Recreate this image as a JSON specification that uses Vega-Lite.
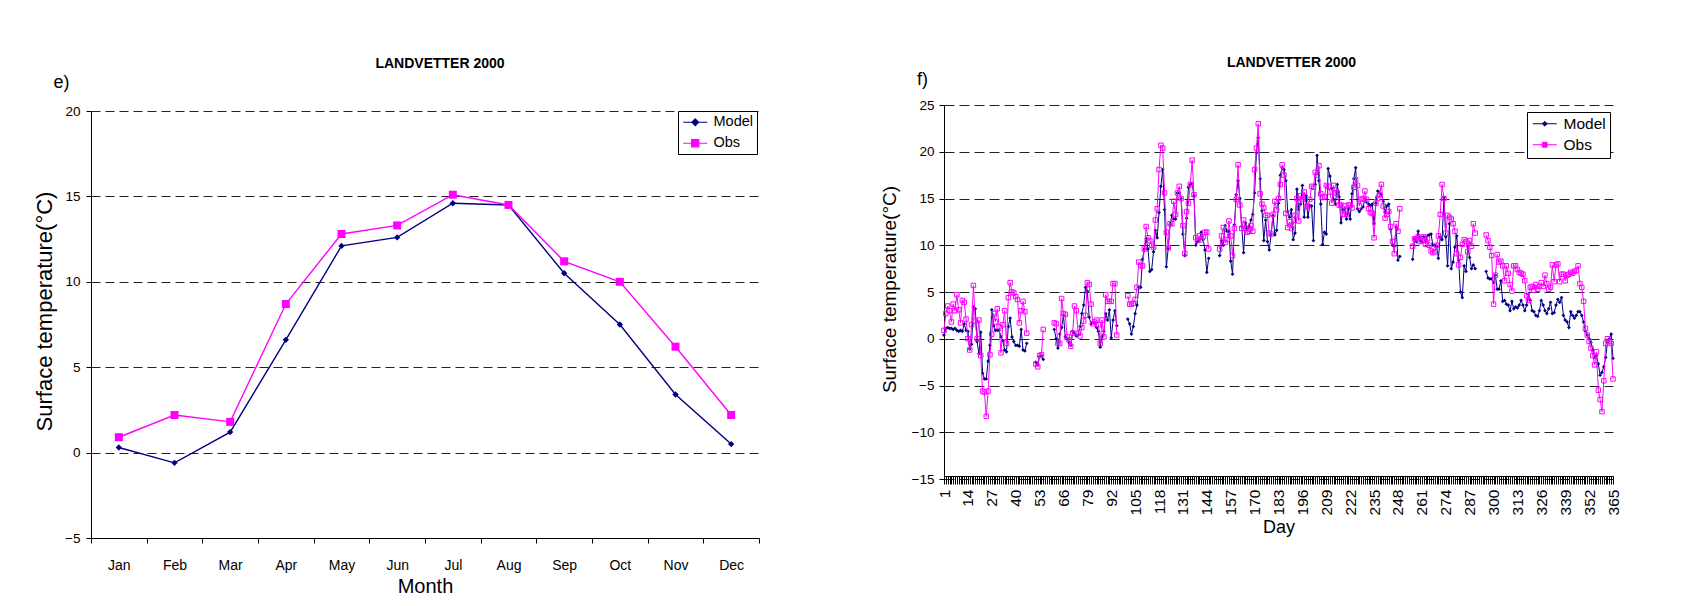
{
"$schema":"https://vega.github.io/schema/vega-lite/v6.json",
"background":"white",
"padding":{"left":33,"top":56,"right":5,"bottom":5},
"bounds":"flush",
"spacing":185,
"config":{"font":"Liberation Sans","view":{"stroke":null},
"axis":{"domainColor":"#000","tickColor":"#000","labelColor":"#000","titleColor":"#000","labelFont":"Liberation Sans","titleFont":"Liberation Sans","titleFontWeight":"normal","gridColor":"#222","gridWidth":1,"domainWidth":1,"tickWidth":1},
"legend":{"labelFont":"Liberation Sans","labelColor":"#000"},
"title":{"font":"Liberation Sans","color":"#000"}},
"resolve":{"scale":{"color":"independent"},"legend":{"color":"independent"}},
"hconcat":[
{
"width":668,"height":433,
"title":{"text":"LANDVETTER 2000","fontSize":14,"fontWeight":"bold","anchor":"middle","frame":"group","dx":15,"offset":2.4},
"data":{"values":[
{"month":"Jan","Model":0.3,"Obs":0.9},{"month":"Feb","Model":-0.6,"Obs":2.2},{"month":"Mar","Model":1.2,"Obs":1.8},{"month":"Apr","Model":6.6,"Obs":8.7},{"month":"May","Model":12.1,"Obs":12.8},{"month":"Jun","Model":12.6,"Obs":13.3},{"month":"Jul","Model":14.6,"Obs":15.1},{"month":"Aug","Model":14.5,"Obs":14.5},{"month":"Sep","Model":10.5,"Obs":11.2},{"month":"Oct","Model":7.5,"Obs":10.0},{"month":"Nov","Model":3.4,"Obs":6.2},{"month":"Dec","Model":0.5,"Obs":2.2}
]},
"resolve":{"axis":{"x":"independent"}},
"layer":[
{"mark":{"type":"line","strokeWidth":1.4},
"encoding":{
"x":{"field":"month","type":"ordinal","sort":["Jan","Feb","Mar","Apr","May","Jun","Jul","Aug","Sep","Oct","Nov","Dec"],"bandPosition":0.5,"scale":{"type":"band","paddingInner":0,"paddingOuter":0},
"axis":{"title":"Month","titleFontSize":20,"titlePadding":4,"labelAngle":0,"labelFontSize":14,"labelPadding":15,"tickSize":5,"tickBand":"extent","grid":false}},
"y":{"field":"Model","type":"quantitative","scale":{"domain":[-5,20],"range":[433,6],"nice":false,"zero":false},
"axis":{"title":"Surface temperature(°C)","values":[-5,0,5,10,15,20],"titleFontSize":22,"titlePadding":8,"titleY":206,"labelFontSize":13.5,"labelPadding":6,"tickSize":5,"grid":true,"gridDash":[9,5]}},
"color":{"datum":"Model","type":"nominal","scale":{"domain":["Model","Obs"],"range":["#000080","#FF00FF"]},
"legend":{"orient":"none","legendX":587,"legendY":6,"title":null,"direction":"vertical","strokeColor":"#000","fillColor":"#fff","padding":4,"labelFontSize":14.5,"symbolSize":144,"symbolOffset":6,"labelOffset":11,"rowPadding":6,
"encode":{"symbols":{"update":{
"shape":{"signal":"datum.value === 'Model' ? 'M-2,0H2M0,-0.55L0.55,0L0,0.55L-0.55,0Z' : 'M-2,0H2M-0.6,-0.6H0.6V0.6H-0.6Z'"},
"fill":{"signal":"datum.value === 'Model' ? '#000080' : '#FF00FF'"},
"stroke":{"signal":"datum.value === 'Model' ? '#000080' : '#FF00FF'"},
"strokeWidth":{"value":1.2},"opacity":{"value":1},"fillOpacity":{"value":1},"strokeOpacity":{"value":1}}}}}}
}},
{"mark":{"type":"point","shape":"diamond","filled":true,"size":40,"opacity":1},
"encoding":{
"x":{"field":"month","type":"ordinal","sort":["Jan","Feb","Mar","Apr","May","Jun","Jul","Aug","Sep","Oct","Nov","Dec"],"bandPosition":0.5,
"axis":{"orient":"top","title":"e)","titleFontSize":18,"titleAngle":0,"titleX":-30,"titleY":-22.5,"titleAlign":"center","titleBaseline":"middle","domain":false,"ticks":false,"labels":false,"grid":false}},
"y":{"field":"Model","type":"quantitative","axis":{"title":"Surface temperature(°C)"}},
"color":{"datum":"Model","type":"nominal"}}},
{"mark":{"type":"line","strokeWidth":1.4},
"encoding":{
"x":{"field":"month","type":"ordinal","sort":["Jan","Feb","Mar","Apr","May","Jun","Jul","Aug","Sep","Oct","Nov","Dec"],"bandPosition":0.5,"axis":null},
"y":{"field":"Obs","type":"quantitative","axis":{"title":"Surface temperature(°C)"}},
"color":{"datum":"Obs","type":"nominal"}}},
{"mark":{"type":"point","shape":"square","filled":true,"size":64,"opacity":1},
"encoding":{
"x":{"field":"month","type":"ordinal","sort":["Jan","Feb","Mar","Apr","May","Jun","Jul","Aug","Sep","Oct","Nov","Dec"],"bandPosition":0.5,"axis":null},
"y":{"field":"Obs","type":"quantitative","axis":{"title":"Surface temperature(°C)"}},
"color":{"datum":"Obs","type":"nominal"}}}
]
},
{
"width":669,"height":374,
"title":{"text":"LANDVETTER 2000","fontSize":14,"fontWeight":"bold","anchor":"middle","frame":"group","dx":13,"offset":0},
"data":{"values":[
{"day":1,"Model":0.4,"Obs":0.9},{"day":2,"Model":1.1,"Obs":2.7},{"day":3,"Model":1.2,"Obs":3.5},{"day":4,"Model":1.1,"Obs":3.0},{"day":5,"Model":1.1,"Obs":1.8},{"day":6,"Model":1.0,"Obs":3.7},{"day":7,"Model":1.1,"Obs":3.0},{"day":8,"Model":0.9,"Obs":4.7},{"day":9,"Model":0.8,"Obs":3.1},{"day":10,"Model":0.9,"Obs":1.7},
{"day":11,"Model":0.8,"Obs":4.1},{"day":12,"Model":1.6,"Obs":3.9},{"day":13,"Model":0.9,"Obs":2.1},{"day":14,"Model":0.8,"Obs":0.0},{"day":15,"Model":-1.1,"Obs":-1.2},{"day":16,"Model":-0.6,"Obs":1.5},{"day":17,"Model":3.4,"Obs":5.7},{"day":18,"Model":3.2,"Obs":1.9},{"day":19,"Model":-0.3,"Obs":0.0},{"day":20,"Model":-1.6,"Obs":2.0},
{"day":21,"Model":0.7,"Obs":-1.8},{"day":22,"Model":-3.7,"Obs":-5.6},{"day":23,"Model":-4.3,"Obs":-5.7},{"day":24,"Model":-4.3,"Obs":-8.3},{"day":25,"Model":-2.4,"Obs":-5.6},{"day":26,"Model":-0.7,"Obs":-1.7},{"day":27,"Model":3.1,"Obs":0.5},{"day":28,"Model":1.4,"Obs":2.7},{"day":29,"Model":0.9,"Obs":1.8},{"day":30,"Model":0.9,"Obs":3.2},
{"day":31,"Model":0.9,"Obs":1.3},{"day":32,"Model":0.2,"Obs":-1.5},{"day":33,"Model":-0.2,"Obs":1.5},{"day":34,"Model":-1.2,"Obs":3.0},{"day":35,"Model":-1.4,"Obs":-0.5},{"day":36,"Model":1.3,"Obs":4.4},{"day":37,"Model":2.2,"Obs":6.0},{"day":38,"Model":0.2,"Obs":5.0},{"day":39,"Model":-0.3,"Obs":4.9},{"day":40,"Model":-0.7,"Obs":4.5},
{"day":41,"Model":-0.7,"Obs":4.2},{"day":42,"Model":-0.8,"Obs":1.7},{"day":43,"Model":1.0,"Obs":3.0},{"day":44,"Model":-1.2,"Obs":4.0},{"day":45,"Model":-1.3,"Obs":2.9},{"day":46,"Model":-0.5,"Obs":0.6},{"day":47,"Model":null,"Obs":null},{"day":48,"Model":null,"Obs":null},{"day":49,"Model":null,"Obs":null},{"day":50,"Model":null,"Obs":null},
{"day":51,"Model":-2.5,"Obs":-2.7},{"day":52,"Model":-2.8,"Obs":-3.0},{"day":53,"Model":-1.9,"Obs":-1.8},{"day":54,"Model":-1.8,"Obs":-1.7},{"day":55,"Model":-2.2,"Obs":1.0},{"day":56,"Model":null,"Obs":null},{"day":57,"Model":null,"Obs":null},{"day":58,"Model":null,"Obs":null},{"day":59,"Model":null,"Obs":null},{"day":60,"Model":null,"Obs":null},
{"day":61,"Model":1.0,"Obs":1.7},{"day":62,"Model":0.0,"Obs":1.6},{"day":63,"Model":-1.0,"Obs":-0.5},{"day":64,"Model":0.5,"Obs":-0.5},{"day":65,"Model":1.2,"Obs":4.3},{"day":66,"Model":2.5,"Obs":2.7},{"day":67,"Model":0.2,"Obs":2.6},{"day":68,"Model":0.0,"Obs":0.2},{"day":69,"Model":-0.4,"Obs":-0.1},{"day":70,"Model":-0.7,"Obs":-0.8},
{"day":71,"Model":0.8,"Obs":0.6},{"day":72,"Model":0.6,"Obs":3.5},{"day":73,"Model":0.3,"Obs":3.0},{"day":74,"Model":0.4,"Obs":0.6},{"day":75,"Model":1.3,"Obs":0.3},{"day":76,"Model":2.7,"Obs":1.2},{"day":77,"Model":3.6,"Obs":1.9},{"day":78,"Model":5.5,"Obs":2.5},{"day":79,"Model":5.1,"Obs":6.0},{"day":80,"Model":2.3,"Obs":5.8},
{"day":81,"Model":1.6,"Obs":3.7},{"day":82,"Model":1.8,"Obs":1.6},{"day":83,"Model":1.7,"Obs":1.8},{"day":84,"Model":1.2,"Obs":2.0},{"day":85,"Model":0.8,"Obs":1.5},{"day":86,"Model":-0.9,"Obs":-0.5},{"day":87,"Model":0.2,"Obs":2.0},{"day":88,"Model":0.8,"Obs":0.2},{"day":89,"Model":2.7,"Obs":4.7},{"day":90,"Model":2.0,"Obs":4.0},
{"day":91,"Model":3.1,"Obs":4.0},{"day":92,"Model":0.1,"Obs":4.0},{"day":93,"Model":2.0,"Obs":5.9},{"day":94,"Model":3.0,"Obs":5.9},{"day":95,"Model":1.4,"Obs":0.4},{"day":96,"Model":null,"Obs":null},{"day":97,"Model":null,"Obs":null},{"day":98,"Model":null,"Obs":null},{"day":99,"Model":null,"Obs":null},{"day":100,"Model":null,"Obs":null},
{"day":101,"Model":2.1,"Obs":4.6},{"day":102,"Model":1.6,"Obs":3.7},{"day":103,"Model":0.5,"Obs":3.7},{"day":104,"Model":1.3,"Obs":3.8},{"day":105,"Model":2.7,"Obs":4.2},{"day":106,"Model":3.6,"Obs":5.5},{"day":107,"Model":5.5,"Obs":8.2},{"day":108,"Model":5.5,"Obs":7.8},{"day":109,"Model":8.5,"Obs":7.8},{"day":110,"Model":9.6,"Obs":9.6},
{"day":111,"Model":10.7,"Obs":12.0},{"day":112,"Model":9.6,"Obs":10.8},{"day":113,"Model":7.2,"Obs":10.5},{"day":114,"Model":7.4,"Obs":10.0},{"day":115,"Model":9.3,"Obs":9.8},{"day":116,"Model":11.6,"Obs":12.7},{"day":117,"Model":10.8,"Obs":13.9},{"day":118,"Model":13.5,"Obs":18.1},{"day":119,"Model":16.3,"Obs":20.7},{"day":120,"Model":18.1,"Obs":20.4},
{"day":121,"Model":13.8,"Obs":15.6},{"day":122,"Model":7.7,"Obs":11.4},{"day":123,"Model":9.7,"Obs":9.7},{"day":124,"Model":12.2,"Obs":12.3},{"day":125,"Model":13.2,"Obs":12.3},{"day":126,"Model":12.8,"Obs":14.7},{"day":127,"Model":12.8,"Obs":13.3},{"day":128,"Model":15.6,"Obs":15.6},{"day":129,"Model":15.6,"Obs":16.3},{"day":130,"Model":15.0,"Obs":15.0},
{"day":131,"Model":11.2,"Obs":12.1},{"day":132,"Model":8.9,"Obs":9.1},{"day":133,"Model":12.9,"Obs":13.6},{"day":134,"Model":16.2,"Obs":14.5},{"day":135,"Model":16.5,"Obs":16.5},{"day":136,"Model":16.6,"Obs":19.1},{"day":137,"Model":15.3,"Obs":15.4},{"day":138,"Model":10.0,"Obs":10.8},{"day":139,"Model":10.4,"Obs":10.5},{"day":140,"Model":10.6,"Obs":11.0},
{"day":141,"Model":11.4,"Obs":10.6},{"day":142,"Model":10.6,"Obs":10.9},{"day":143,"Model":9.5,"Obs":11.4},{"day":144,"Model":7.1,"Obs":11.4},{"day":145,"Model":8.6,"Obs":9.6},{"day":146,"Model":null,"Obs":null},{"day":147,"Model":null,"Obs":null},{"day":148,"Model":null,"Obs":null},{"day":149,"Model":null,"Obs":null},{"day":150,"Model":null,"Obs":null},
{"day":151,"Model":8.9,"Obs":9.6},{"day":152,"Model":10.5,"Obs":11.0},{"day":153,"Model":10.0,"Obs":11.9},{"day":154,"Model":12.1,"Obs":10.3},{"day":155,"Model":11.5,"Obs":10.6},{"day":156,"Model":11.5,"Obs":12.6},{"day":157,"Model":8.3,"Obs":11.0},{"day":158,"Model":6.9,"Obs":8.9},{"day":159,"Model":12.2,"Obs":11.8},{"day":160,"Model":15.4,"Obs":14.9},
{"day":161,"Model":16.9,"Obs":18.6},{"day":162,"Model":15.0,"Obs":14.3},{"day":163,"Model":12.0,"Obs":11.8},{"day":164,"Model":9.2,"Obs":12.7},{"day":165,"Model":12.4,"Obs":11.8},{"day":166,"Model":11.8,"Obs":11.4},{"day":167,"Model":12.0,"Obs":11.5},{"day":168,"Model":12.7,"Obs":12.1},{"day":169,"Model":13.3,"Obs":11.5},{"day":170,"Model":15.6,"Obs":18.1},
{"day":171,"Model":19.9,"Obs":20.4},{"day":172,"Model":21.5,"Obs":23.0},{"day":173,"Model":17.1,"Obs":15.5},{"day":174,"Model":13.7,"Obs":14.4},{"day":175,"Model":10.5,"Obs":14.0},{"day":176,"Model":12.7,"Obs":13.2},{"day":177,"Model":10.4,"Obs":13.2},{"day":178,"Model":9.5,"Obs":11.3},{"day":179,"Model":11.2,"Obs":11.2},{"day":180,"Model":13.2,"Obs":13.3},
{"day":181,"Model":11.1,"Obs":14.7},{"day":182,"Model":11.6,"Obs":13.8},{"day":183,"Model":14.5,"Obs":15.0},{"day":184,"Model":17.5,"Obs":16.5},{"day":185,"Model":18.3,"Obs":18.6},{"day":186,"Model":18.1,"Obs":17.5},{"day":187,"Model":16.9,"Obs":13.4},{"day":188,"Model":13.6,"Obs":11.9},{"day":189,"Model":13.0,"Obs":12.5},{"day":190,"Model":13.8,"Obs":11.8},
{"day":191,"Model":10.6,"Obs":12.2},{"day":192,"Model":11.3,"Obs":13.2},{"day":193,"Model":16.0,"Obs":15.0},{"day":194,"Model":13.8,"Obs":12.6},{"day":195,"Model":14.4,"Obs":15.3},{"day":196,"Model":16.4,"Obs":14.9},{"day":197,"Model":13.0,"Obs":15.7},{"day":198,"Model":15.3,"Obs":14.1},{"day":199,"Model":13.0,"Obs":14.2},{"day":200,"Model":14.2,"Obs":14.9},
{"day":201,"Model":14.2,"Obs":16.3},{"day":202,"Model":10.5,"Obs":16.2},{"day":203,"Model":16.5,"Obs":17.8},{"day":204,"Model":19.6,"Obs":17.5},{"day":205,"Model":16.9,"Obs":18.5},{"day":206,"Model":14.4,"Obs":15.5},{"day":207,"Model":10.1,"Obs":15.1},{"day":208,"Model":11.4,"Obs":15.2},{"day":209,"Model":11.2,"Obs":16.4},{"day":210,"Model":18.2,"Obs":16.3},
{"day":211,"Model":17.4,"Obs":15.7},{"day":212,"Model":16.1,"Obs":14.5},{"day":213,"Model":14.9,"Obs":16.4},{"day":214,"Model":14.4,"Obs":15.6},{"day":215,"Model":16.5,"Obs":15.6},{"day":216,"Model":15.2,"Obs":14.3},{"day":217,"Model":12.4,"Obs":14.3},{"day":218,"Model":13.8,"Obs":13.3},{"day":219,"Model":13.9,"Obs":14.2},{"day":220,"Model":12.8,"Obs":13.3},
{"day":221,"Model":13.9,"Obs":14.3},{"day":222,"Model":12.8,"Obs":14.3},{"day":223,"Model":15.5,"Obs":14.0},{"day":224,"Model":17.1,"Obs":16.2},{"day":225,"Model":18.3,"Obs":17.0},{"day":226,"Model":13.9,"Obs":16.4},{"day":227,"Model":13.6,"Obs":14.2},{"day":228,"Model":13.9,"Obs":14.9},{"day":229,"Model":14.1,"Obs":15.0},{"day":230,"Model":14.9,"Obs":15.8},
{"day":231,"Model":14.6,"Obs":14.9},{"day":232,"Model":14.4,"Obs":13.9},{"day":233,"Model":14.2,"Obs":13.5},{"day":234,"Model":14.4,"Obs":13.4},{"day":235,"Model":12.3,"Obs":10.8},{"day":236,"Model":14.5,"Obs":14.5},{"day":237,"Model":15.8,"Obs":15.0},{"day":238,"Model":15.6,"Obs":15.4},{"day":239,"Model":15.4,"Obs":16.5},{"day":240,"Model":14.7,"Obs":14.2},
{"day":241,"Model":13.5,"Obs":12.9},{"day":242,"Model":14.2,"Obs":13.3},{"day":243,"Model":14.4,"Obs":13.6},{"day":244,"Model":11.7,"Obs":12.0},{"day":245,"Model":10.0,"Obs":10.4},{"day":246,"Model":9.9,"Obs":9.1},{"day":247,"Model":11.9,"Obs":12.3},{"day":248,"Model":8.4,"Obs":11.5},{"day":249,"Model":8.8,"Obs":13.9},{"day":250,"Model":null,"Obs":null},
{"day":251,"Model":null,"Obs":null},{"day":252,"Model":null,"Obs":null},{"day":253,"Model":null,"Obs":null},{"day":254,"Model":null,"Obs":null},{"day":255,"Model":null,"Obs":null},{"day":256,"Model":8.5,"Obs":9.9},{"day":257,"Model":10.7,"Obs":10.7},{"day":258,"Model":10.4,"Obs":10.7},{"day":259,"Model":11.5,"Obs":10.9},{"day":260,"Model":10.5,"Obs":10.4},
{"day":261,"Model":10.4,"Obs":10.5},{"day":262,"Model":10.9,"Obs":10.9},{"day":263,"Model":10.4,"Obs":10.1},{"day":264,"Model":11.0,"Obs":10.7},{"day":265,"Model":11.1,"Obs":10.0},{"day":266,"Model":11.2,"Obs":9.4},{"day":267,"Model":10.0,"Obs":9.2},{"day":268,"Model":10.0,"Obs":9.3},{"day":269,"Model":9.9,"Obs":10.0},{"day":270,"Model":8.6,"Obs":11.0},
{"day":271,"Model":10.9,"Obs":13.3},{"day":272,"Model":10.6,"Obs":16.5},{"day":273,"Model":15.1,"Obs":15.0},{"day":274,"Model":10.9,"Obs":11.3},{"day":275,"Model":7.8,"Obs":13.2},{"day":276,"Model":12.3,"Obs":13.0},{"day":277,"Model":7.5,"Obs":12.8},{"day":278,"Model":8.2,"Obs":12.3},{"day":279,"Model":9.8,"Obs":11.5},{"day":280,"Model":11.0,"Obs":9.1},
{"day":281,"Model":8.4,"Obs":7.9},{"day":282,"Model":5.0,"Obs":8.7},{"day":283,"Model":4.4,"Obs":10.1},{"day":284,"Model":7.8,"Obs":10.6},{"day":285,"Model":7.2,"Obs":10.4},{"day":286,"Model":9.9,"Obs":9.3},{"day":287,"Model":8.7,"Obs":10.5},{"day":288,"Model":7.5,"Obs":9.9},{"day":289,"Model":7.9,"Obs":12.3},{"day":290,"Model":7.5,"Obs":11.3},
{"day":291,"Model":null,"Obs":null},{"day":292,"Model":null,"Obs":null},{"day":293,"Model":null,"Obs":null},{"day":294,"Model":null,"Obs":null},{"day":295,"Model":null,"Obs":null},{"day":296,"Model":7.2,"Obs":11.1},{"day":297,"Model":6.5,"Obs":10.5},{"day":298,"Model":6.4,"Obs":9.8},{"day":299,"Model":6.4,"Obs":8.9},{"day":300,"Model":6.0,"Obs":3.7},
{"day":301,"Model":6.8,"Obs":6.8},{"day":302,"Model":5.3,"Obs":9.0},{"day":303,"Model":5.3,"Obs":8.2},{"day":304,"Model":6.2,"Obs":8.3},{"day":305,"Model":4.0,"Obs":7.8},{"day":306,"Model":4.1,"Obs":6.2},{"day":307,"Model":3.7,"Obs":7.8},{"day":308,"Model":3.6,"Obs":7.0},{"day":309,"Model":3.0,"Obs":5.8},{"day":310,"Model":4.0,"Obs":5.1},
{"day":311,"Model":3.2,"Obs":7.8},{"day":312,"Model":3.4,"Obs":7.8},{"day":313,"Model":3.3,"Obs":7.4},{"day":314,"Model":3.6,"Obs":7.1},{"day":315,"Model":4.1,"Obs":7.0},{"day":316,"Model":3.6,"Obs":6.9},{"day":317,"Model":3.0,"Obs":6.2},{"day":318,"Model":3.6,"Obs":4.6},{"day":319,"Model":4.8,"Obs":4.1},{"day":320,"Model":4.1,"Obs":5.5},
{"day":321,"Model":3.0,"Obs":5.6},{"day":322,"Model":2.9,"Obs":5.2},{"day":323,"Model":2.5,"Obs":5.8},{"day":324,"Model":2.4,"Obs":5.3},{"day":325,"Model":3.0,"Obs":5.6},{"day":326,"Model":4.1,"Obs":6.0},{"day":327,"Model":3.6,"Obs":5.6},{"day":328,"Model":3.0,"Obs":6.8},{"day":329,"Model":2.7,"Obs":5.9},{"day":330,"Model":3.2,"Obs":5.3},
{"day":331,"Model":3.9,"Obs":5.5},{"day":332,"Model":2.7,"Obs":7.9},{"day":333,"Model":2.8,"Obs":6.1},{"day":334,"Model":3.6,"Obs":7.9},{"day":335,"Model":4.2,"Obs":8.0},{"day":336,"Model":3.9,"Obs":6.1},{"day":337,"Model":4.4,"Obs":6.9},{"day":338,"Model":2.5,"Obs":6.9},{"day":339,"Model":2.0,"Obs":6.2},{"day":340,"Model":1.8,"Obs":6.8},
{"day":341,"Model":1.2,"Obs":6.9},{"day":342,"Model":2.9,"Obs":7.1},{"day":343,"Model":2.5,"Obs":7.0},{"day":344,"Model":2.2,"Obs":7.2},{"day":345,"Model":2.5,"Obs":7.3},{"day":346,"Model":2.9,"Obs":7.8},{"day":347,"Model":2.9,"Obs":5.9},{"day":348,"Model":2.5,"Obs":5.5},{"day":349,"Model":1.8,"Obs":4.0},{"day":350,"Model":0.8,"Obs":1.1},
{"day":351,"Model":0.4,"Obs":0.4},{"day":352,"Model":0.0,"Obs":-0.3},{"day":353,"Model":-0.4,"Obs":-1.0},{"day":354,"Model":-1.2,"Obs":-1.8},{"day":355,"Model":-2.0,"Obs":-2.8},{"day":356,"Model":-1.8,"Obs":-1.4},{"day":357,"Model":-2.7,"Obs":-5.5},{"day":358,"Model":-3.9,"Obs":-6.5},{"day":359,"Model":-3.6,"Obs":-7.8},{"day":360,"Model":-3.0,"Obs":-4.5},
{"day":361,"Model":-2.0,"Obs":-0.5},{"day":362,"Model":-0.4,"Obs":0.0},{"day":363,"Model":0.0,"Obs":-0.3},{"day":364,"Model":0.5,"Obs":-0.5},{"day":365,"Model":-2.1,"Obs":-4.3}
]},
"resolve":{"axis":{"x":"independent"}},
"layer":[
{"mark":{"type":"line","strokeWidth":1,"invalid":"break-paths-filter-domains"},
"encoding":{
"x":{"field":"day","type":"quantitative","scale":{"domain":[1,365],"nice":false,"zero":false},
"axis":{"title":"Day","titleFontSize":18,"titlePadding":4,"tickCount":364,"format":"d","labelExpr":"(datum.value - 1) % 13 === 0 ? datum.label : ''","labelAngle":-90,"labelFontSize":15.5,"labelOverlap":false,"labelFlush":false,"labelBound":false,"tickSize":8,"offset":-3,"labelPadding":5,"grid":false}},
"y":{"field":"Model","type":"quantitative","scale":{"domain":[-15,25],"nice":false,"zero":false},
"axis":{"title":"Surface temperature(°C)","values":[-15,-10,-5,0,5,10,15,20,25],"titleFontSize":19,"titlePadding":11.5,"titleY":184,"labelFontSize":13.5,"labelPadding":5,"tickSize":5,"grid":true,"gridDash":[10,5]}},
"color":{"datum":"Model","type":"nominal","scale":{"domain":["Model","Obs"],"range":["#000080","#FF00FF"]},
"legend":{"orient":"none","legendX":583,"legendY":7,"title":null,"direction":"vertical","strokeColor":"#000","fillColor":"#fff","padding":4,"labelFontSize":15.5,"symbolSize":144,"symbolOffset":6,"labelOffset":11,"rowPadding":4,
"encode":{"symbols":{"update":{
"shape":{"signal":"datum.value === 'Model' ? 'M-2,0H2M0,-0.4L0.4,0L0,0.4L-0.4,0Z' : 'M-2,0H-0.4M0.4,0H2M-0.4,-0.4H0.4V0.4H-0.4Z'"},
"fill":{"signal":"datum.value === 'Model' ? '#000080' : '#ffffff'"},
"stroke":{"signal":"datum.value === 'Model' ? '#000080' : '#FF00FF'"},
"strokeWidth":{"value":1},"opacity":{"value":1},"fillOpacity":{"value":1},"strokeOpacity":{"value":1}}}}}}
}},
{"mark":{"type":"point","shape":"diamond","filled":true,"size":14,"opacity":1},
"encoding":{
"x":{"field":"day","type":"quantitative",
"axis":{"orient":"top","title":"f)","titleFontSize":18,"titleAngle":0,"titleX":-22,"titleY":-26,"titleAlign":"center","titleBaseline":"middle","domain":false,"ticks":false,"labels":false,"grid":false,"tickCount":1}},
"y":{"field":"Model","type":"quantitative","axis":{"title":"Surface temperature(°C)"}},
"color":{"datum":"Model","type":"nominal"}}},
{"mark":{"type":"line","strokeWidth":1,"invalid":"break-paths-filter-domains"},
"encoding":{
"x":{"field":"day","type":"quantitative","axis":null},
"y":{"field":"Obs","type":"quantitative","axis":{"title":"Surface temperature(°C)"}},
"color":{"datum":"Obs","type":"nominal"}}},
{"mark":{"type":"point","shape":"square","filled":false,"size":20,"strokeWidth":1,"opacity":1},
"encoding":{
"x":{"field":"day","type":"quantitative","axis":null},
"y":{"field":"Obs","type":"quantitative","axis":{"title":"Surface temperature(°C)"}},
"color":{"datum":"Obs","type":"nominal"}}}
]
}
]
}
